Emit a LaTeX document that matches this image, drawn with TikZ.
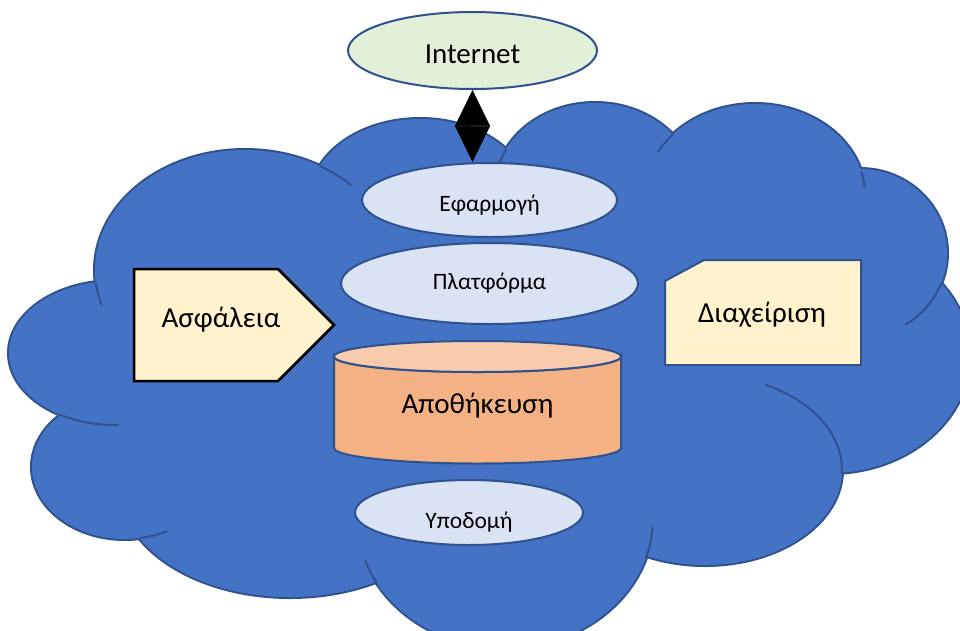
\documentclass[tikz,border=0pt]{standalone}
\usepackage{fontspec}
\setmainfont{Carlito}
\usetikzlibrary{arrows.meta,shapes.geometric}
\definecolor{cloudblue}{HTML}{4472C4}
\definecolor{edgeblue}{HTML}{2F528F}
\definecolor{paleblue}{HTML}{DAE3F3}
\definecolor{palegreen}{HTML}{E2F0D9}
\definecolor{cylbody}{HTML}{F4B183}
\definecolor{cyltop}{HTML}{F8CBAD}
\definecolor{paleyellow}{HTML}{FFF2CC}
\begin{document}
\begin{tikzpicture}[x=1pt,y=-1pt,
  bumpout/.style={fill=cloudblue, draw=edgeblue, line width=4pt},
  bumpin/.style={fill=cloudblue},
  cloudarc/.style={draw=edgeblue, line width=2pt},
  layer/.style={ellipse, draw=edgeblue, line width=2pt, fill=paleblue, inner sep=0pt, text depth=0pt},
  big/.style={font=\fontsize{29}{33}\selectfont},
  small/.style={font=\fontsize{23.5}{27}\selectfont},
  label text/.style={anchor=base, inner sep=0pt, big},
  edgebox/.style={line width=2pt, draw=edgeblue, fill=paleyellow, line join=miter},
  bigtip/.style={line width=0.6pt, {Triangle[length=36pt,width=35pt]}-{Triangle[length=36pt,width=35pt]}},
]
\useasboundingbox (0,0) rectangle (960,630);
\clip (0,0) rectangle (960,630);
% ---- cloud ----
\foreach \cx/\cy/\rx/\ry in {245/270/150/120, 115/353/106/72, 125/467/93/72,
  290/487/170/110, 505/518/148/130, 705/470/137/95, 830/355/140/118,
  860/253/87/84, 755/195/110/91, 595/188/100/85, 420/199/110/80}
  \path[bumpout] (\cx,\cy) ellipse [x radius=\rx, y radius=\ry];
\foreach \cx/\cy/\rx/\ry in {245/270/150/120, 115/353/106/72, 125/467/93/72,
  290/487/170/110, 505/518/148/130, 705/470/137/95, 830/355/140/118,
  860/253/87/84, 755/195/110/91, 595/188/100/85, 420/199/110/80}
  \path[bumpin] (\cx,\cy) ellipse [x radius=\rx, y radius=\ry];
\path[bumpin] (319,166) -- (507,149) -- (672,134) -- (861,172) -- (941,283)
  -- (841,472) -- (646,557) -- (376,582) -- (140,538) -- (60,415) -- (96,282) -- cycle;
\foreach \cx/\cy/\rx/\ry/\a/\b in {245/270/150/120/-60/-45, 245/270/150/120/174/163,
  115/353/106/72/121/88, 125/467/93/72/81/63, 505/518/148/130/150/161,
  505/518/148/130/18/4, 705/470/137/95/2/-64, 860/253/87/84/21/59,
  755/195/110/91/-15/-5, 755/195/110/91/-138/-152, 595/188/100/85/-153/-170}
  \draw[cloudarc] ({\cx+\rx*cos(\a)},{\cy+\ry*sin(\a)}) arc[start angle=\a, end angle=\b, x radius=\rx, y radius=\ry];
% ---- security (pentagon) ----
\draw[line width=2.5pt, draw=black, fill=paleyellow, line join=miter]
  (134,269) -- (278,269) -- (334,325) -- (278,381) -- (134,381) -- cycle;
\node[label text] (secur) at (221,327) {Ασφάλεια};
% ---- management (snipped box) ----
\draw[edgebox] (665,281) -- (704,260) -- (861,260) -- (861,365) -- (665,365) -- cycle;
\node[label text] (mgmt) at (762,322) {Διαχείριση};
% ---- layers ----
\node[layer, minimum width=255pt, minimum height=74pt, small, text height=22pt] (app) at (489.5,200) {Εφαρμογή};
\node[layer, minimum width=297pt, minimum height=81pt, small, text height=11pt] (plat) at (489.5,283.5) {Πλατφόρμα};
\node[layer, minimum width=228pt, minimum height=65pt, small, text height=31pt] (infra) at (469,512.5) {Υποδομή};
% ---- storage cylinder ----
\path[fill=cylbody, draw=edgeblue, line width=2pt]
  (334,356.5) -- (334,448) arc[start angle=180, end angle=0, x radius=143.5, y radius=15.5]
  -- (621,356.5) arc[start angle=0, end angle=180, x radius=143.5, y radius=15.5] -- cycle;
\path[fill=cyltop, draw=edgeblue, line width=2pt] (477.5,356.5) ellipse [x radius=143.5, y radius=15.5];
\node[label text] (storage) at (477.5,413) {Αποθήκευση};
% ---- internet ----
\node[layer, fill=palegreen, minimum width=249pt, minimum height=77pt, big, text height=25pt] (internet) at (472.5,50.5) {Internet};
\draw[bigtip] (internet.south) -- (internet.south |- app.north);
\end{tikzpicture}
\end{document}
